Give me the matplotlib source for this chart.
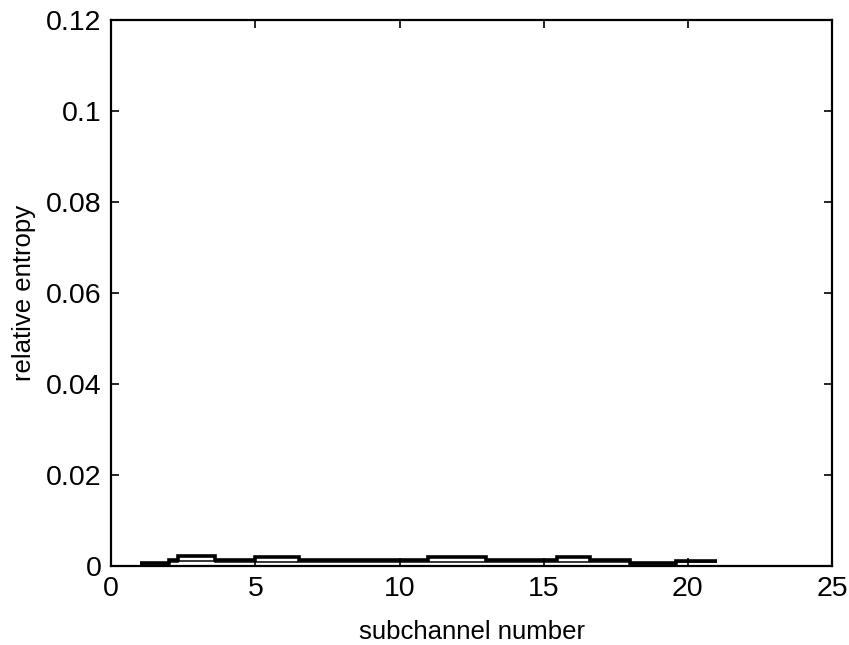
import matplotlib
matplotlib.use("Agg")
import matplotlib.pyplot as plt
import numpy as np

plt.rcParams['font.family'] = ['Liberation Sans', 'DejaVu Sans']

# step edges along the subchannel axis and levels between them
edges = [1, 2, 2.33, 3.6, 5, 6.5, 11, 13, 15, 15.45, 16.6, 18, 19.6, 21]
upper = [0.00073, 0.00125, 0.00213, 0.00125, 0.0020, 0.00125, 0.0019,
         0.00125, 0.00125, 0.0019, 0.00125, 0.0006, 0.0011]
lower = [0.00025, 0.0009, 0.00105, 0.0008, 0.0008, 0.0008, 0.0008,
         0.0008, 0.0008, 0.0009, 0.0008, 0.0003, 0.0008]

xticks = [0, 5, 10, 15, 20, 25]
yticks = [0, 0.02, 0.04, 0.06, 0.08, 0.1, 0.12]
yticklabels = ['0', '0.02', '0.04', '0.06', '0.08', '0.1', '0.12']

fig = plt.figure(figsize=(8.49, 6.45), dpi=100)
ax = fig.add_axes([0.131, 0.1225, 0.849, 0.8465])

ax.stairs(upper, edges, color='black', linewidth=2.6, baseline=None)
ax.stairs(lower, edges, color='black', linewidth=1.1, baseline=None)

ax.set_xlim(0, 25)
ax.set_ylim(0, 0.12)
ax.set_xticks(xticks)
ax.set_yticks(yticks)
ax.set_yticklabels(yticklabels)
ax.tick_params(direction='in', length=6, width=1.2, top=True, right=True,
               labelsize=20.5, pad=7, colors='black')
for s in ax.spines.values():
    s.set_linewidth(1.6)
    s.set_color('black')

ax.set_xlabel('subchannel number', fontsize=18.5, labelpad=13)
ax.set_ylabel('relative entropy', fontsize=18.5, labelpad=7)

fig.savefig('out.png', dpi=100)
